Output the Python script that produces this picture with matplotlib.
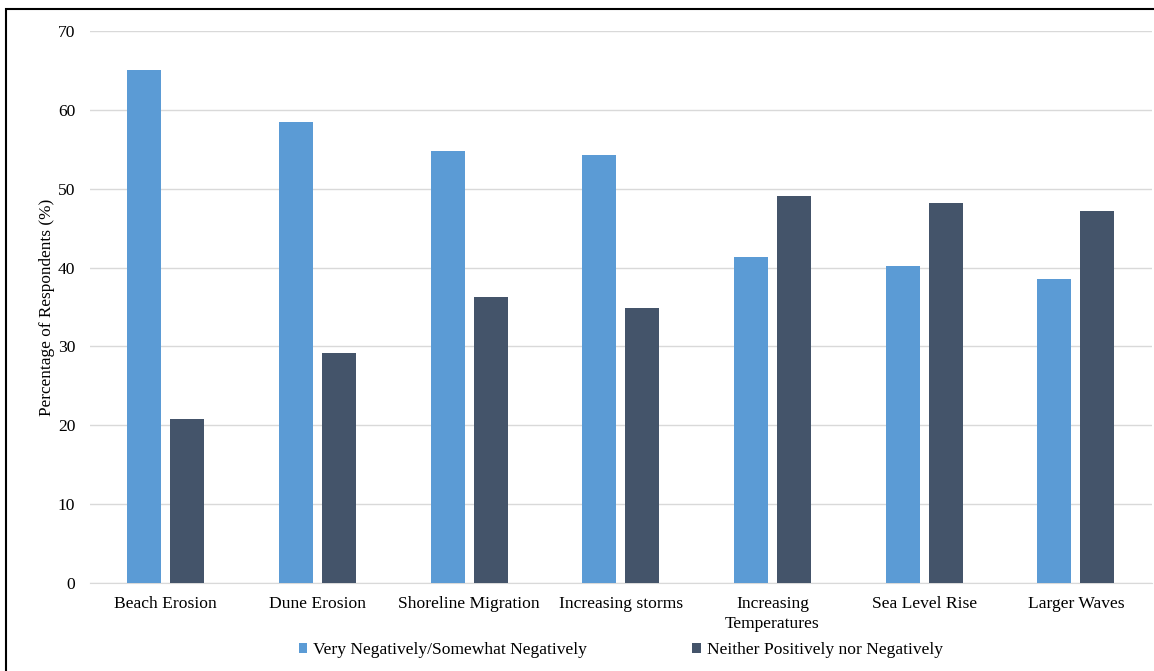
import numpy as np
import matplotlib
matplotlib.use("Agg")
import matplotlib.pyplot as plt
from matplotlib.patches import Rectangle

plt.rcParams['font.family'] = ['Liberation Serif', 'DejaVu Serif']

# Survey results

categories = ["Beach Erosion", "Dune Erosion", "Shoreline Migration", "Increasing storms",
              "Increasing\nTemperatures", "Sea Level Rise", "Larger Waves"]
negative = [65.1, 58.5, 54.8, 54.3, 41.3, 40.2, 38.5]
neutral = [20.8, 29.2, 36.3, 34.9, 49.1, 48.2, 47.2]
series_names = ["Very Negatively/Somewhat Negatively", "Neither Positively nor Negatively"]
yticks = [0, 10, 20, 30, 40, 50, 60, 70]

blue = "#5B9BD5"
navy = "#44546A"

fig = plt.figure(figsize=(11.54, 6.71), dpi=100)
ax = fig.add_axes([0.078, 0.1311, 0.92, 0.8227])

x = np.arange(len(categories))
w = 0.225
ax.bar(x - 0.142, negative, w, color=blue, label=series_names[0], zorder=3)
ax.bar(x + 0.142, neutral, w, color=navy, label=series_names[1], zorder=3)

ax.set_xlim(-0.5, len(categories) - 0.5)
ax.set_ylim(0, 70)
ax.set_yticks(yticks)
ax.set_xticks(x)
ax.set_xticklabels(categories, fontsize=12.6, linespacing=1.4)
ax.tick_params(axis='both', length=0, labelsize=12.6, colors='#404040')
ax.tick_params(axis='x', pad=9)
ax.tick_params(axis='y', pad=10.5)
for lbl in ax.get_xticklabels() + ax.get_yticklabels():
    lbl.set_color('black')

ax.grid(axis='y', color='#D9D9D9', linewidth=1, zorder=0)
for side in ['top', 'right', 'left']:
    ax.spines[side].set_visible(False)
ax.spines['bottom'].set_color('#D9D9D9')

ax.set_ylabel("Percentage of Respondents (%)", fontsize=12.4, labelpad=2)

fig.legend(loc='center', bbox_to_anchor=(0.538, 0.031), ncol=2, frameon=False,
           fontsize=12.6, handlelength=0.5, handleheight=0.5, handletextpad=0.35,
           columnspacing=6.0)

# outer frame
fig.patches.append(Rectangle((6 / 1154, -0.05), 1.2, 1 - 8.5 / 671 + 0.05,
                             transform=fig.transFigure, fill=False,
                             edgecolor='black', linewidth=1.5))

fig.savefig("out.png", dpi=100)
